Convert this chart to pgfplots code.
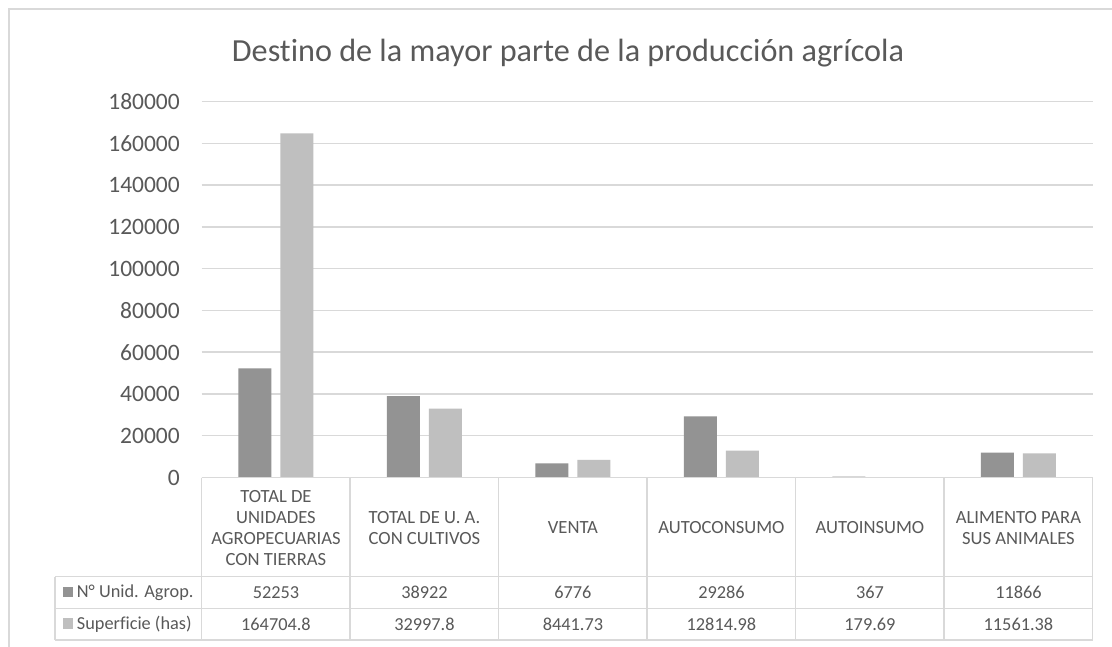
\documentclass[border=0pt]{standalone}
\usepackage{pgfplots}
\pgfplotsset{compat=1.18}
\usepackage{fontspec}
\setmainfont{Carlito}[Ligatures=NoCommon]
\definecolor{txt}{HTML}{595959}
\definecolor{grd}{HTML}{D9D9D9}
\definecolor{darkbar}{HTML}{939393}
\definecolor{lightbar}{HTML}{BFBFBF}
\begin{document}
\begin{tikzpicture}
\begin{scope}[x=1pt,y=-1pt]
\useasboundingbox (0,0) rectangle (1112,647);
\fill[white] (0,0) rectangle (1112,647);
\draw[grd, line width=1.5pt] (9,700) -- (9,9) -- (1130,9);
\node[txt, font=\fontsize{32.2}{38}\selectfont, anchor=center] at (568,53) {Destino de la mayor parte de la producción agrícola};
\end{scope}
\begin{axis}[
  at={(201.7pt,-477.5pt)}, anchor=south west,
  scale only axis, width=891pt, height=376pt,
  xmin=-0.5, xmax=5.5, ymin=0, ymax=180000,
  axis line style={draw=none},
  major tick style={draw=none},
  xtick=\empty,
  ytick={0,20000,...,180000},
  scaled y ticks=false,
  yticklabel={\pgfmathprintnumber[fixed,precision=0,1000 sep={},assume math mode=true]{\tick}},
  ymajorgrids, grid style={grd, line width=1.5pt},
  yticklabel style={font=\fontsize{23.5}{27}\selectfont, text=txt, inner sep=0pt, xshift=-21.7pt},
  clip=false,
]
\addplot[ybar, bar width=33pt, bar shift=-21pt, fill=darkbar, draw=none] coordinates {(0,52253) (1,38922) (2,6776) (3,29286) (4,367) (5,11866)};
\addplot[ybar, bar width=33pt, bar shift=21pt, fill=lightbar, draw=none] coordinates {(0,164704.8) (1,32997.8) (2,8441.73) (3,12814.98) (4,179.69) (5,11561.38)};
\end{axis}
\begin{scope}[x=1pt,y=-1pt]
% table lines
\draw[grd, line width=1.5pt] (201.7,477.5) -- (1092.7,477.5);
\foreach \yy in {576.7,608.3,640} \draw[grd, line width=1.5pt] (55,\yy) -- (1092.7,\yy);
\draw[grd, line width=1.5pt] (55,576.7) -- (55,640);
\foreach \k in {0,...,6} \draw[grd, line width=1.5pt] ({201.7+148.5*\k},477.5) -- ({201.7+148.5*\k},640);
% category labels
\tikzset{cat/.style={txt, font=\fontsize{18.6}{20.8}\selectfont, align=center, anchor=center}}
\node[cat] at (275.95,528) {TOTAL DE\\UNIDADES\\AGROPECUARIAS\\CON TIERRAS};
\node[cat] at (424.45,528) {TOTAL DE U. A.\\CON CULTIVOS};
\node[cat] at (572.95,528) {VENTA};
\node[cat] at (721.45,528) {AUTOCONSUMO};
\node[cat] at (869.95,528) {AUTOINSUMO};
\node[cat] at (1018.45,528) {ALIMENTO PARA\\SUS ANIMALES};
% legend keys
\fill[darkbar] (62.7,586.5) rectangle (73.3,597.1);
\fill[lightbar] (62.7,618.1) rectangle (73.3,628.7);
\tikzset{val/.style={txt, font=\fontsize{18.3}{20.8}\selectfont, anchor=center}}
\node[val, anchor=west, inner sep=0pt] at (76.7,592.5) {N° Unid. Agrop.};
\node[val, anchor=west, inner sep=0pt] at (76.7,624.2) {Superficie (has)};
\foreach \v [count=\i from 0] in {52253,38922,6776,29286,367,11866}
  \node[val] at ({275.95+148.5*\i},592.5) {\v};
\foreach \v [count=\i from 0] in {164704.8,32997.8,8441.73,12814.98,179.69,11561.38}
  \node[val] at ({275.95+148.5*\i},624.2) {\v};
\end{scope}
\end{tikzpicture}
\end{document}
